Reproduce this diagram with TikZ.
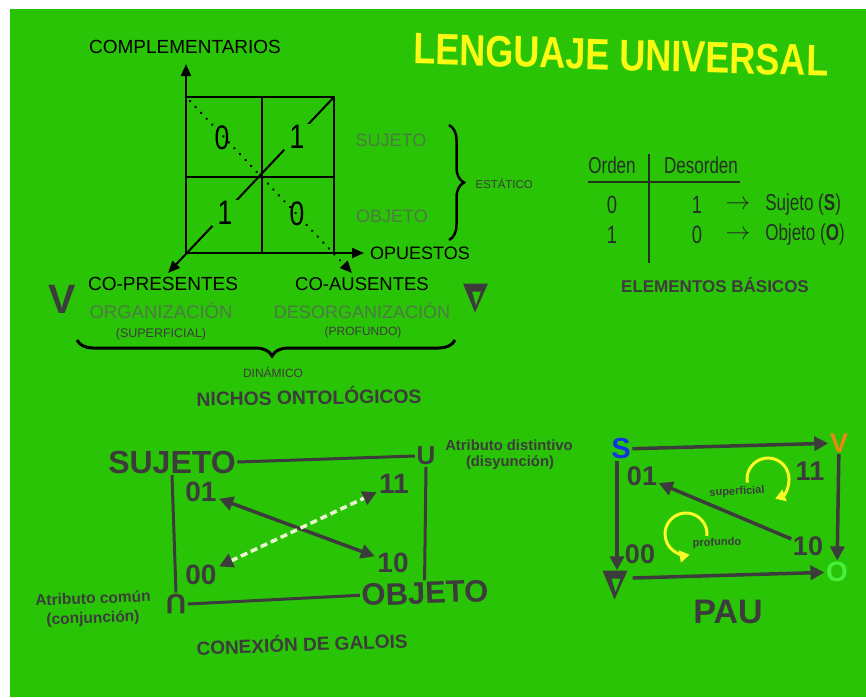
\documentclass[tikz,border=0pt]{standalone}
\usepackage{fontspec}
\setmainfont{Liberation Sans}
\usetikzlibrary{arrows.meta,decorations.pathreplacing,calc}
\definecolor{bg}{RGB}{42,196,6}
\definecolor{dk}{RGB}{60,60,60}
\definecolor{gr}{RGB}{78,122,68}
\definecolor{tb}{RGB}{35,50,35}
\definecolor{ttl}{RGB}{250,250,20}
\definecolor{ylw}{RGB}{250,250,40}
\definecolor{sblue}{RGB}{20,50,230}
\definecolor{vor}{RGB}{235,135,20}
\definecolor{ogr}{RGB}{70,240,60}
\definecolor{wdash}{RGB}{235,245,210}
\newcommand\fs[1]{\fontsize{#1}{#1}\selectfont}
\begin{document}
\begin{tikzpicture}[x=1pt,y=-1pt,
  every node/.style={inner sep=1.5pt},
  lbl/.style={font=\fs{#1}, text=black},
  glbl/.style={font=\fs{18}, text=gr},
  sm/.style={font=\fs{#1}, text=dk},
  bt/.style={font=\bfseries\fs{#1}, text=dk},
  numtxt/.style={font=\fs{34}, xscale=0.78, text=black},
  tabtxt/.style={font=\fs{#1}, xscale=0.74, text=tb},
  gline/.style={draw=dk, line width=3pt},
  bline/.style={draw=black, line width=2pt},
  btip/.style={-{Triangle[length=12pt,width=10pt]}},
  arr/.style={draw=dk, line width=3.5pt, -{Triangle[length=14pt,width=14pt]}},
  yloop/.style={draw=ylw, line width=3pt, -{Triangle[length=10pt,width=12pt]}},
  nablanode/.style={minimum width=25pt, minimum height=29pt, inner sep=0pt,
    path picture={\fill[dk, even odd rule]
      (path picture bounding box.north west) -- (path picture bounding box.north east)
      -- ([xshift=-0.5pt]path picture bounding box.south) -- cycle
      ([xshift=9pt,yshift=-8pt]path picture bounding box.north west)
      -- ([xshift=18pt,yshift=-8pt]path picture bounding box.north west)
      -- ([xshift=13pt,yshift=-22pt]path picture bounding box.north west) -- cycle;}}
]
\useasboundingbox (0,0) rectangle (866,697);
\fill[white] (0,0) rectangle (866,697);
\fill[bg] (10,9) rectangle (866,697);

% title
\node[font=\bfseries\fs{44}, text=ttl, xscale=0.82, rotate=-1.4] (title) at (621,55) {LENGUAJE UNIVERSAL};

% ---- top-left square
\node[lbl=19] (comp) at (185,47) {COMPLEMENTARIOS};
\draw[bline] (186,97) rectangle (334,253);
\draw[bline] (262,97) -- (262,253);
\draw[bline] (186,177) -- (334,177);
\draw[bline, btip] (186,254) -- (186,64);
\draw[bline, btip] (185,253) -- (364,253);
\draw[bline, btip] (334,97) -- (168,273);
\draw[black, line width=2.6pt, line cap=round, dash pattern=on 0.1pt off 8pt,
      -{Triangle[length=12pt,width=10pt]}] (190,101) -- (352,273);
\node[numtxt] (z1) at (222,138) {0};
\node[numtxt, fill=bg, minimum width=33pt, minimum height=26pt] (o1) at (297,137) {1};
\node[numtxt, fill=bg, minimum width=33pt, minimum height=26pt] (o2) at (225,213) {1};
\node[numtxt] (z2) at (297,214) {0};
\node[glbl] (sujg) at (391,140) {SUJETO};
\node[glbl] (objg) at (392,216) {OBJETO};
\draw[black, line width=2.5pt, decorate, decoration={brace, amplitude=15pt}] (449,125) -- (449,240);
\node[sm=11.4, anchor=west] (est) at (474,184) {ESTÁTICO};
\node[lbl=18] (opu) at (420,253) {OPUESTOS};
\node[lbl=19] (copre) at (163,284) {CO-PRESENTES};
\node[lbl=18.5] (coaus) at (362,284) {CO-AUSENTES};
\node[glbl, font=\fs{18.5}] (org) at (161,311) {ORGANIZACIÓN};
\node[glbl] (desorg) at (362,311) {DESORGANIZACIÓN};
\node[sm=12.5] (sup) at (161,334) {(SUPERFICIAL)};
\node[sm=12] (prof) at (363,332) {(PROFUNDO)};
\node[bt=41] (bigV) at (62,299) {V};
\node[nablanode] (nab1) at (475.5,298) {};
\draw[black, line width=3pt, decorate, decoration={brace, amplitude=16pt, aspect=0.484}] (455,340) -- (77,340);
\node[sm=12] (din) at (273,372) {DINÁMICO};
\node[bt=19.3, rotate=0.8] (nichos) at (309,396) {NICHOS ONTOLÓGICOS};

% ---- Orden / Desorden table
\node[tabtxt=23] (ord) at (612,165) {Orden};
\node[tabtxt=23] (desord) at (701,165) {Desorden};
\draw[tb, line width=2pt] (649,154) -- (649,263);
\draw[tb, line width=2pt] (588,182) -- (740,182);
\node[tabtxt=25] (a0) at (612,205) {0};
\node[tabtxt=25] (a1) at (612,235) {1};
\node[tabtxt=25] (b1) at (697,205) {1};
\node[tabtxt=25] (b0) at (697,235) {0};
\node[text=tb, font=\fs{30}] (r1) at (738,205) {$\rightarrow$};
\node[text=tb, font=\fs{30}] (r2) at (738,235) {$\rightarrow$};
\node[tabtxt=23, anchor=west] (sj) at (764,205) {Sujeto (\textbf{S})};
\node[tabtxt=23, anchor=west] (oj) at (764,235) {Objeto (\textbf{O})};
\node[bt=17] (elem) at (715,285) {ELEMENTOS BÁSICOS};

% ---- Galois connection
\node[bt=32] (gsuj) at (172,462) {SUJETO};
\node[bt=31, rotate=2] (gobj) at (425,593) {OBJETO};
\node[bt=26] (gU) at (426,456) {U};
\node[bt=28, rotate=180] (gcap) at (176,604) {U};
\node[bt=14.8] (ad1) at (509,445) {Atributo distintivo};
\node[bt=14.8] (ad2) at (510,463) {(disyunción)};
\node[bt=15.5, rotate=2, inner sep=0.5pt] (ac1) at (93,598) {Atributo común};
\node[bt=15.5, rotate=2, inner sep=0.5pt] (ac2) at (93,619) {(conjunción)};
\node[bt=28, inner sep=0.5pt] (g01) at (201,492) {01};
\node[bt=28, inner sep=0.5pt] (g11) at (394,484) {11};
\node[bt=28, inner sep=0.5pt] (g00) at (201,575) {00};
\node[bt=28, inner sep=0.5pt] (g10) at (393,563) {10};
\node[bt=19, rotate=2] (galois) at (302,643) {CONEXIÓN DE GALOIS};
\draw[gline] (gsuj.east) -- (gU.west);
\draw[gline] (gsuj.south) -- (gcap.south);
\draw[gline] (gU.south) -- (gobj.north);
\draw[gline] (gcap.west) -- (gobj.west);
\draw[dk, line width=3.5pt, shorten <=2pt, shorten >=2pt, {Triangle[length=14pt,width=14pt]}-{Triangle[length=14pt,width=14pt]}] (g01) -- (g10);
\draw[wdash, line width=3.5pt, dash pattern=on 7pt off 4pt, shorten <=2pt, shorten >=2pt,
      {Triangle[length=14pt,width=14pt,color=dk]}-{Triangle[length=14pt,width=14pt,color=dk]}] (g00) -- (g11);

% ---- PAU
\node[font=\bfseries\fs{29}, text=sblue] (pS) at (621,449) {S};
\node[font=\bfseries\fs{27}, text=vor] (pV) at (839,443) {V};
\node[font=\bfseries\fs{28}, text=ogr] (pO) at (837,572) {O};
\node[nablanode] (pN) at (615,585) {};
\node[bt=27] (p01) at (642,476) {01};
\node[bt=27] (p11) at (810,471) {11};
\node[bt=27] (p00) at (640,554) {00};
\node[bt=27] (p10) at (808,546) {10};
\draw[arr] (pS) -- (pV);
\draw[arr] ([xshift=-4pt]pS.south) -- ([xshift=2pt]pN.north);
\draw[arr] (pV) -- (pO);
\draw[arr] ([xshift=5pt,yshift=7pt]pN.east) -- (pO);
\draw[arr] (p10) -- (p01);
\draw[yloop] (768,479) ++(-190:21) arc[start angle=-190, end angle=70, radius=21];
\draw[yloop] (686,534) ++(5:21) arc[start angle=5, end angle=-280, radius=21];
\node[bt=11, rotate=3] (psup) at (737,492) {superficial};
\node[bt=11, rotate=2] (pprof) at (717,543) {profundo};
\node[bt=34] (pau) at (728,612) {PAU};
\end{tikzpicture}
\end{document}
